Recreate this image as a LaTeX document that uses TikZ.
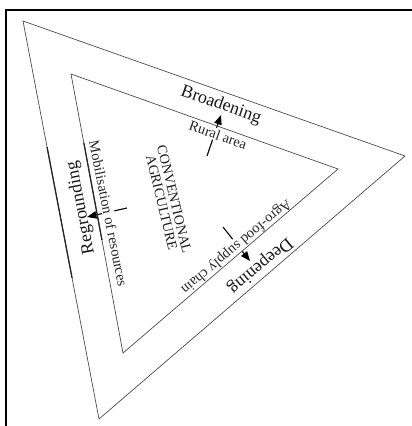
\documentclass[tikz,border=0pt]{standalone}
\usepackage{fontspec}
\setmainfont{Liberation Serif}
\usetikzlibrary{arrows.meta,calc}
\begin{document}
\begin{tikzpicture}[x=1pt,y=1pt,
  tri/.style={draw=black!70, line width=0.7pt, line join=miter},
  big/.style={font=\fontsize{18}{18}\selectfont, inner sep=0pt, text=black!90},
  small/.style={font=\fontsize{14.5}{14.5}\selectfont, inner sep=1pt, fill=white, text=black!85},
  push/.style={line width=1.1pt, -{Triangle[length=9.5pt,width=7.5pt]}},
  dark/.style={line width=1.3pt, black!85},
  frame/.style={line width=2pt, black}]
\useasboundingbox (0,0) rectangle (412,-426);
% frame
\coordinate (f1) at (6,-426);
\coordinate (f2) at (6,-10);
\coordinate (f3) at (412,-10);
\draw[frame] (f1) -- (f2) -- (f3);
% triangle vertices
\coordinate (o1) at (23,-21);
\coordinate (o2) at (405,-156);
\coordinate (o3) at (99,-419);
\coordinate (i1) at (71,-74);
\coordinate (i2) at (338,-169);
\coordinate (i3) at (123,-353);
% arrows
\coordinate (bA) at (207,-156);
\coordinate (bB) at (221,-115);
\coordinate (rA) at (127,-208);
\coordinate (rB) at (87,-217);
\coordinate (dA) at (223,-227);
\coordinate (dB) at (250,-261);
\draw[push] (bA) -- (bB);
\draw[push] (rA) -- (rB);
\draw[push] (dA) -- (dB);
% inner labels
\node[small, rotate=-19.5] (rural) at (218,-135) {Rural area};
\node[small, rotate=-78.5] (mob) at (108.5,-213.5) {Mobilisation of resources};
\node[small, rotate=-140] (agro) at (236,-246.5) {Agro-food supply chain};
% triangles
\draw[tri] (o1) -- (o2) -- (o3) -- cycle;
\draw[tri] (i1) -- (i2) -- (i3) -- cycle;
\draw[dark] ($(o1)!0.317!(o3)$) -- ($(o1)!0.646!(o3)$);
\draw[dark] ($(i1)!0.247!(i3)$) -- ($(i1)!0.595!(i3)$);
% outer labels
\node[big, rotate=-19.5] (broad) at (221,-105) {Broadening};
\node[big, rotate=100.8] (regr) at (81,-208) {Regrounding};
\node[big, rotate=-140] (deep) at (260,-265.5) {Deepening};
\node[font=\fontsize{14}{13}\selectfont, align=center, rotate=-76.5, inner sep=0pt, text=black!90] (conv) at (168,-201) {CONVENTIONAL\\AGRICULTURE};
\end{tikzpicture}
\end{document}
